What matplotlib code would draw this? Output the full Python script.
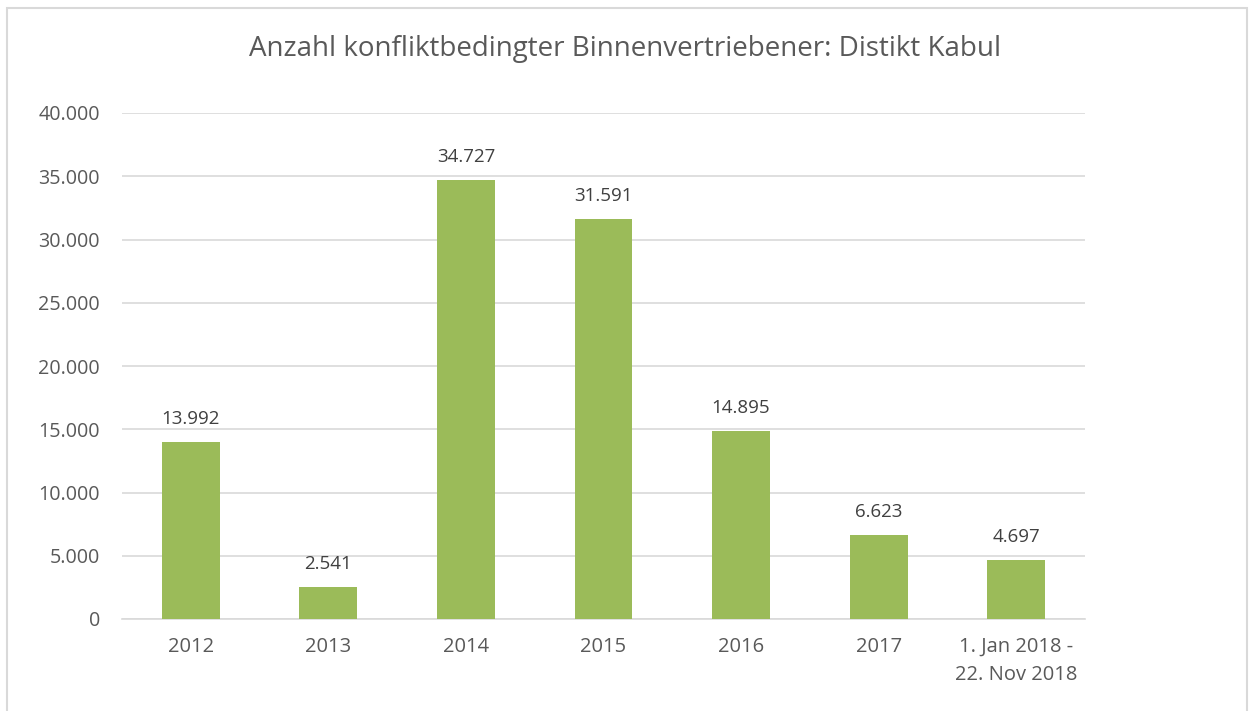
import matplotlib
matplotlib.use("Agg")
import matplotlib.pyplot as plt
from matplotlib.patches import Rectangle

categories = ["2012", "2013", "2014", "2015", "2016", "2017", "1. Jan 2018 -\n22. Nov 2018"]
values = [13992, 2541, 34727, 31591, 14895, 6623, 4697]
value_labels = ["13.992", "2.541", "34.727", "31.591", "14.895", "6.623", "4.697"]
yticks = [0, 5000, 10000, 15000, 20000, 25000, 30000, 35000, 40000]
ytick_labels = ["0", "5.000", "10.000", "15.000", "20.000", "25.000", "30.000", "35.000", "40.000"]
title = "Anzahl konfliktbedingter Binnenvertriebener: Distikt Kabul"

plt.rcParams['font.family'] = ['Open Sans', 'DejaVu Sans']
text_color = "#595959"

W, H = 1250, 711
fig = plt.figure(figsize=(W / 100, H / 100), dpi=100)
fig.patches.append(Rectangle((7 / W, -0.1), (1247 - 7) / W, 1.1 - 8 / H,
                             transform=fig.transFigure, fill=False,
                             edgecolor="#d9d9d9", linewidth=1.5))

left, right = 122 / W, 1085 / W
bottom, top = 1 - 619 / H, 1 - 113 / H
ax = fig.add_axes([left, bottom, right - left, top - bottom])

x = list(range(len(categories)))
ax.bar(x, values, width=0.42, color="#9bbb59", zorder=3)
ax.set_xlim(-0.5, len(categories) - 0.5)
ax.set_ylim(0, 40000)
ax.set_yticks(yticks)
ax.set_yticklabels(ytick_labels)
ax.set_xticks(x)
ax.set_xticklabels(categories, linespacing=1.55)
ax.grid(axis="y", color="#d9d9d9", linewidth=1.2, zorder=0)
for s in ["top", "right", "left"]:
    ax.spines[s].set_visible(False)
ax.spines["bottom"].set_color("#d9d9d9")
ax.spines["bottom"].set_linewidth(1.2)
ax.tick_params(axis="both", length=0, labelsize=14.5, colors=text_color)
ax.tick_params(axis="y", pad=16, labelsize=14.2)
ax.tick_params(axis="x", pad=13)

for xi, v, lab in zip(x, values, value_labels):
    ax.annotate(lab, (xi, v), xytext=(0, 10), textcoords="offset points",
                ha="center", va="bottom", fontsize=13.5, color="#404040")

fig.text(0.5, 1 - 49 / H, title, ha="center", va="center", fontsize=20, color=text_color)

fig.savefig("out.png", dpi=100)
